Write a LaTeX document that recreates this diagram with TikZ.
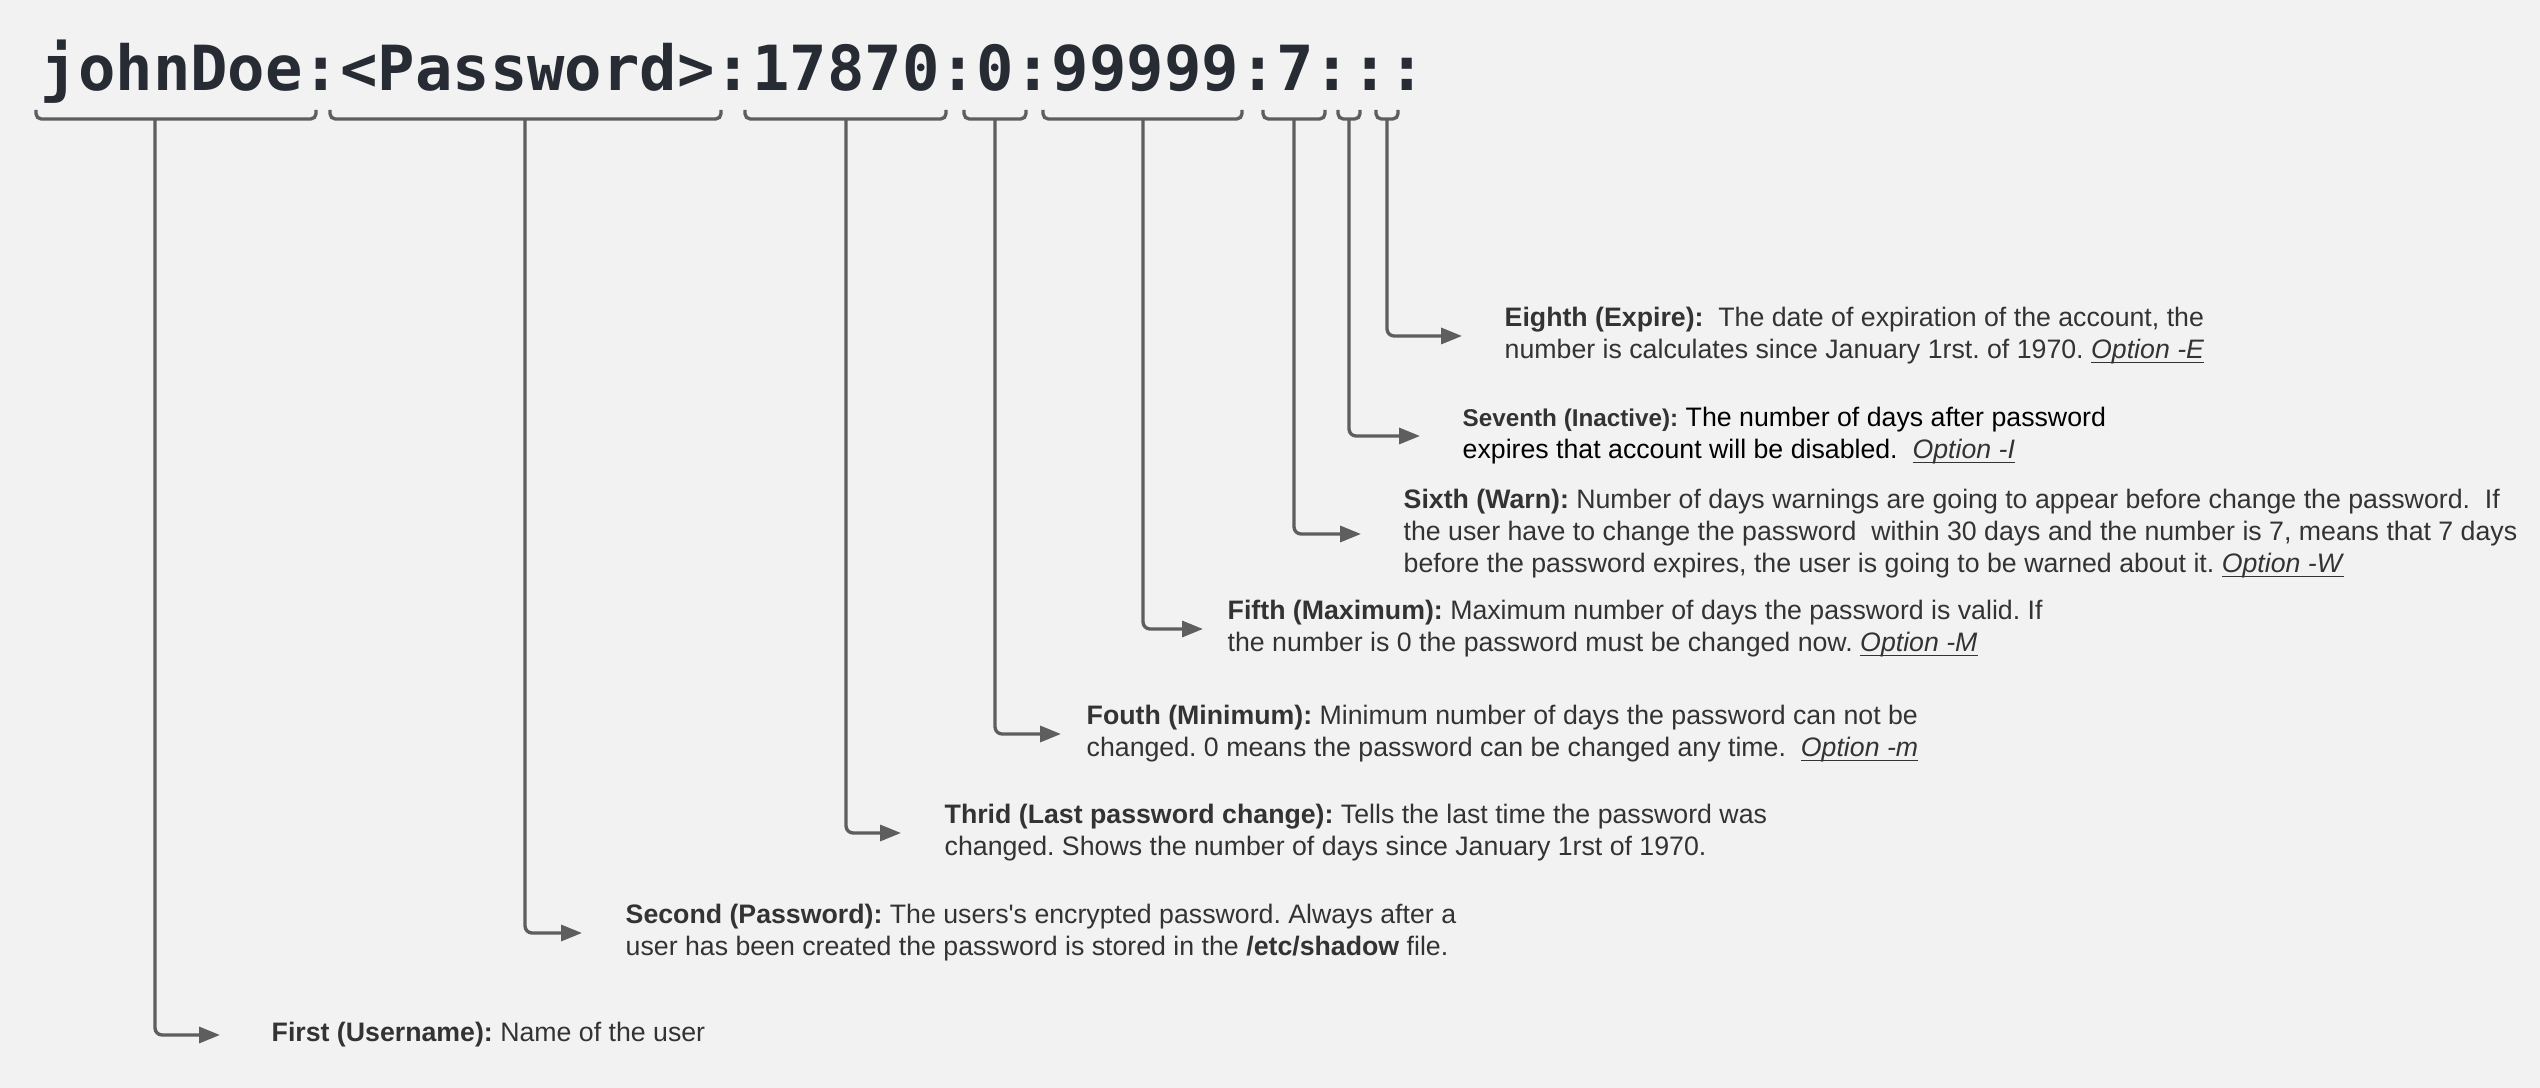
\documentclass[tikz,border=0pt]{standalone}
\usepackage{fontspec}
\setmainfont{Liberation Sans}
\newfontfamily\codefont{DejaVu Sans Mono}
\usetikzlibrary{arrows.meta}
\definecolor{sfondo}{HTML}{F2F2F2}
\definecolor{linea}{HTML}{5E5E5E}
\definecolor{codice}{HTML}{272B33}
\definecolor{testo}{HTML}{333333}
\newsavebox{\opbox}
\newcommand{\opzione}[1]{\sbox{\opbox}{\textit{#1}}\rlap{\rule[-1.3pt]{\wd\opbox}{0.55pt}}\usebox{\opbox}}
\frenchspacing

\begin{document}
\begin{tikzpicture}[x=0.1mm, y=-0.1mm,
    parentesi/.style = {draw=linea, line width=0.95pt, rounded corners=1.5pt},
    freccia/.style = {draw=linea, line width=0.95pt, rounded corners=2pt, -{Triangle[length=2.1mm, width=1.6mm]}},
    descr/.style = {anchor=west, align=left, inner sep=0pt, text=testo, font=\fontsize{7.6}{9.1}\selectfont}]
    % Sfondo
    \fill[sfondo] (0,0) rectangle (2540,1088);
    \useasboundingbox (0,0) rectangle (2540,1088);
    % Riga di /etc/shadow
    \node[anchor=base west, inner sep=0pt, text=codice, font=\codefont\bfseries\fontsize{17.7}{20}\selectfont] (riga) at (40,91) {johnDoe:<Password>:17870:0:99999:7:::};
    % Parentesi sotto i campi
    \foreach \sx/\dx/\st/\n in {36/316/155/1, 330/721/525/2, 745/946/846/3, 964/1026/995/4, 1043/1242/1143/5, 1263/1325/1294/6, 1338/1360/1349/7, 1376/1398/1387/8}{
        \draw[parentesi] (\sx,110) -- (\sx,119) -- (\dx,119) -- (\dx,110);
        \coordinate (s\n) at (\st,119);
    }
    % Descrizioni
    \node[descr] (t1) at (271,1035) {\textbf{First (Username):} Name of the user};
    \node[descr] (t2) at (625,933) {\textbf{Second (Password):} The users\textquotesingle s encrypted password. Always after a\\user has been created the password is stored in the \textbf{/etc/shadow} file.};
    \node[descr] (t3) at (944,833) {\textbf{Thrid (Last password change):} Tells the last time the password was\\changed. Shows the number of days since January 1rst of 1970.};
    \node[descr] (t4) at (1086,734) {\textbf{Fouth (Minimum):} Minimum number of days the password can not be\\changed. 0 means the password can be changed any time.\ \ \opzione{Option -m}};
    \node[descr] (t5) at (1227,629) {\textbf{Fifth (Maximum):} Maximum number of days the password is valid. If\\the number is 0 the password must be changed now. \opzione{Option -M}};
    \node[descr] (t6) at (1403,534) {\textbf{Sixth (Warn):} Number of days warnings are going to appear before change the password.\ \ If\\the user have to change the password\ \ within 30 days and the number is 7, means that 7 days\\before the password expires, the user is going to be warned about it. \opzione{Option -W}};
    \node[descr, text=black] (t7) at (1462,436) {{\fontsize{6.9}{9.1}\selectfont\color{testo}\textbf{Seventh (Inactive):}} The number of days after password\\expires that account will be disabled.\ \ {\color{testo}\opzione{Option -I}}};
    \node[descr] (t8) at (1504,336) {\textbf{Eighth (Expire):}\ \ The date of expiration of the account, the\\number is calculates since January 1rst. of 1970. \opzione{Option -E}};
    % Frecce
    \draw[freccia, shorten >=5.1mm] (s1) |- (t1);
    \draw[freccia, shorten >=4.3mm] (s2) |- (t2);
    \draw[freccia, shorten >=4.3mm] (s3) |- (t3);
    \draw[freccia, shorten >=2.5mm] (s4) |- (t4);
    \draw[freccia, shorten >=2.4mm] (s5) |- (t5);
    \draw[freccia, shorten >=4.2mm] (s6) |- (t6);
    \draw[freccia, shorten >=4.2mm] (s7) |- (t7);
    \draw[freccia, shorten >=4.2mm] (s8) |- (t8);
\end{tikzpicture}
\end{document}
